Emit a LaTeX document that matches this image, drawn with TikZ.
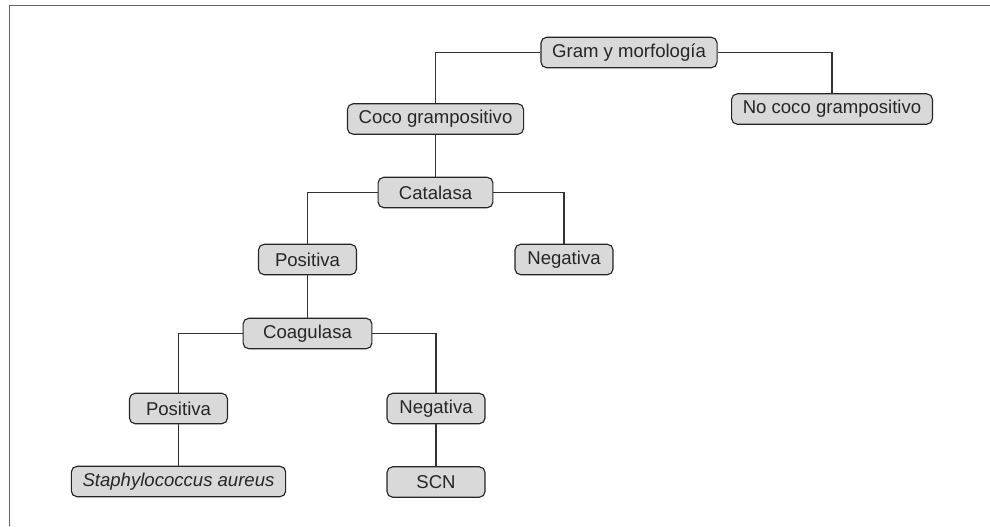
\documentclass[tikz,border=0pt]{standalone}
\usepackage{fontspec}
\setmainfont{Liberation Sans}
\usepackage{tikz}

\begin{document}
\begin{tikzpicture}[x=0.025cm, y=-0.025cm,
        caja/.style={draw=black!85, fill=black!15, line width=0.8pt, rounded corners=4pt,
            minimum height=0.76cm, minimum width=2.45cm, inner xsep=0.28cm,
            text=black!85, font=\fontsize{13.2}{15}\selectfont},
        rama/.style={draw=black!80, line width=0.75pt}]
            \useasboundingbox (0,0) rectangle (990,526);
            \draw[black!60, line width=0.6pt] (990,5.5) -- (9.5,5.5) -- (9.5,526);
            \node[caja] (gram) at (629,52.5) {Gram y morfología};
            \node[caja] (nococo) at (832,109) {No coco grampositivo};
            \node[caja] (coco) at (435.5,119) {Coco grampositivo};
            \node[caja, minimum width=2.87cm] (catalasa) at (435.5,192.5) {Catalasa};
            \node[caja] (cpos) at (307.5,259.5) {Positiva};
            \node[caja] (cneg) at (564,259.5) {Negativa};
            \node[caja, minimum width=3.22cm] (coagulasa) at (307.5,333.5) {Coagulasa};
            \node[caja] (gpos) at (178.5,408.5) {Positiva};
            \node[caja] (gneg) at (436,408.5) {Negativa};
            \node[caja, font=\fontsize{13.2}{15}\selectfont\itshape] (staph) at (178.5,481.5) {Staphylococcus aureus};
            \node[caja] (scn) at (436,482) {SCN};
            \draw[rama] (gram.west) -| (coco.north);
            \draw[rama] (gram.east) -| (nococo.north);
            \draw[rama] (coco) -- (catalasa);
            \draw[rama] (catalasa.west) -| (cpos.north);
            \draw[rama] (catalasa.east) -| (cneg.north);
            \draw[rama] (cpos) -- (coagulasa);
            \draw[rama] (coagulasa.west) -| (gpos.north);
            \draw[rama] (coagulasa.east) -| (gneg.north);
            \draw[rama] (gpos) -- (staph);
            \draw[rama] (gneg) -- (scn);
\end{tikzpicture}
\end{document}
